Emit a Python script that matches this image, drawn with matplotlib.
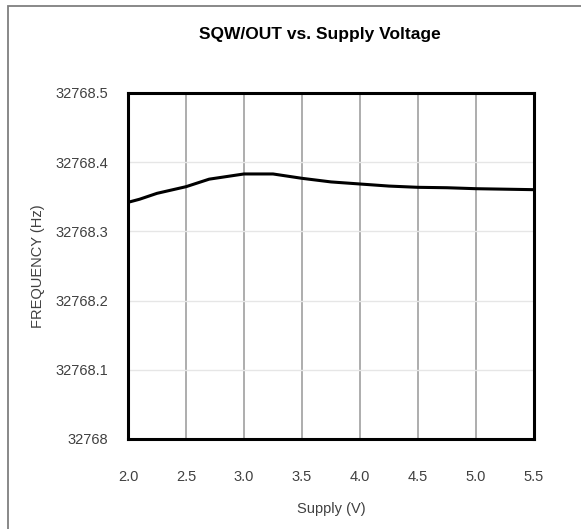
import numpy as np
import matplotlib.pyplot as plt
from matplotlib.patches import Rectangle

# supply voltage (V) and frequency (Hz)
supply = [2.0, 2.1, 2.25, 2.5, 2.7, 3.0, 3.25, 3.5, 3.75, 4.0, 4.25, 4.5, 4.75, 5.0, 5.25, 5.5]
freq = [32768.342, 32768.3465, 32768.355, 32768.3646, 32768.3755, 32768.383, 32768.383,
        32768.3767, 32768.3715, 32768.3685, 32768.3655, 32768.3637, 32768.3631,
        32768.3617, 32768.361, 32768.3603]

x_ticks = [2.0, 2.5, 3.0, 3.5, 4.0, 4.5, 5.0, 5.5]
y_ticks = [32768.0, 32768.1, 32768.2, 32768.3, 32768.4, 32768.5]
y_labels = ["32768", "32768.1", "32768.2", "32768.3", "32768.4", "32768.5"]

plt.rcParams['font.family'] = ['Liberation Sans', 'DejaVu Sans']
txt = '#404040'

W, H = 581, 529
fig = plt.figure(figsize=(W / 100, H / 100), dpi=100)

# outer frame running off the right and bottom edges
fig.patches.append(Rectangle((8 / W, -0.05), 1.1, 1 - 6 / H + 0.05, transform=fig.transFigure,
                             fill=False, edgecolor='#7f7f7f', linewidth=1.3))

ax = fig.add_axes([128 / W, 1 - 439 / H, (534 - 128) / W, (439 - 93) / H])
ax.plot(supply, freq, color='black', linewidth=2.2, zorder=3)

ax.set_xlim(2.0, 5.5)
ax.set_ylim(32768.0, 32768.5)
ax.set_xticks(x_ticks)
ax.set_xticklabels([f"{v:.1f}" for v in x_ticks])
ax.set_yticks(y_ticks)
ax.set_yticklabels(y_labels)
ax.tick_params(length=0, labelsize=10.5, labelcolor=txt)
ax.tick_params(axis='x', pad=22)
ax.tick_params(axis='y', pad=14)

ax.grid(axis='x', color='#a0a0a0', linewidth=1.2)
ax.grid(axis='y', color='#e6e6e6', linewidth=1.0)
ax.set_axisbelow(True)
for s in ax.spines.values():
    s.set_linewidth(2.2)
    s.set_color('black')

ax.set_xlabel("Supply (V)", fontsize=10.5, color=txt, labelpad=13)
ax.set_ylabel("FREQUENCY (Hz)", fontsize=10.5, color=txt, labelpad=8)
fig.text(320 / W, 1 - 35 / H, "SQW/OUT vs. Supply Voltage", ha='center', va='center',
         fontsize=12.5, fontweight='bold', color='black')

fig.savefig("out.png", dpi=100)
